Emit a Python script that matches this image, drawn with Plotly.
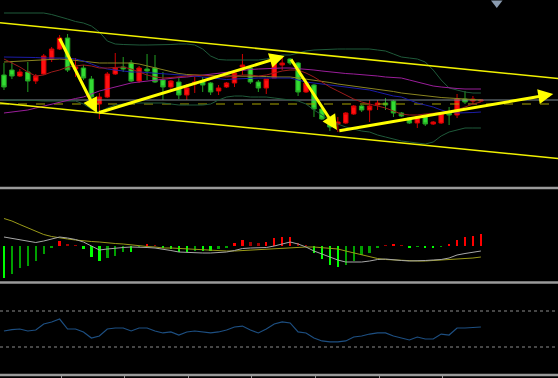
import plotly.graph_objects as go

# ---------------- data ----------------
candle_idx = list(range(61))
opens  = [125,130,124,128,119,126,141,151,162,131,132,121,96,103,126,133,137,119,131,132,
          120,113,118,105,116,119,117,109,113,117,133,132,118,112,122,135,141,137,108,115,
          91,81,76,77,86,94,90,95,97,99,87,82,77,84,76,77,87,85,101,99,99]
highs  = [137,139,131,138,126,146,153,165,166,142,135,124,107,128,147,143,140,134,146,145,
          128,120,122,116,123,123,118,115,118,128,146,133,120,121,140,143,142,138,118,116,
          92,82,83,88,95,95,100,100,102,100,88,83,84,85,79,88,93,106,109,104,101]
lows   = [110,121,123,108,116,125,138,150,128,123,120,100,81,102,125,128,118,117,120,117,
          100,109,101,100,107,108,105,105,112,113,125,116,108,106,122,130,135,104,107,83,
          80,69,68,76,85,88,78,90,90,83,83,76,72,74,75,76,75,82,96,96,98]
closes = [113,124,128,119,124,144,151,162,130,133,122,103,103,126,132,131,119,132,129,118,
          113,119,105,112,118,115,108,112,117,127,135,118,112,121,138,137,137,108,117,91,
          81,73,78,87,94,90,94,97,95,87,84,77,83,76,78,87,85,101,98,101,100]

upper_band = [187,187,187,187,187,187,185.5,183.5,181,178.5,177,174,168,159,156,155.5,155,155,155,155,
              155,155.5,156,156,155,151,144,140.5,140,140,139.5,140,140,141,143,145,145,147,149,150,
              150.5,150.5,151,151,151,151,151,150,149,146,143,142,141,138,130,120,112,110,108,107,107]
lower_band = [100,100,100,100,99.5,99,99,99,99,99,96,91,88,92,95,96,97,97,97,97,
              97,96,95,95,95,95,96,100,103,104,104,103,103,103,102,101,100,99,96,90,
              85,80,76,73,71,69,68,65,63,61,59,58,57,56,58,64,68,70,72,72,72]
ma_blue = [143,143,143,143,142.5,142,142,142,142,141,139,136,133,131,130,129,128,128,127.5,127,
           126.5,126,125,124.5,124,123,122,121,120.5,121,121.5,122,122,122,122,122.5,122,120,118,117,
           116,115,114,113,112,111,110,108,106,104,103,100,97,95,93,90,88,87,87,87.5,88]
ma_red = [141,137,133,128,124,125,128,130,133,134,135,134,132,132,132.5,133,131,128,125,123,
          122,122.5,123,124,125,124.5,124,123,123,124,125,125,124,125,127,129,130,130,127,123,
          118,113,109,105,101,98,96,94,92,89,86,85,85,86,87,87.5,88,90,93,96,98]
ma_olive = [138,138.5,139,139.5,140,140,140.5,141,140.5,139.5,138.5,137.5,137,137,137,137,137,136,134,132,
            130,128,126.5,125.5,125,124.5,124,124,124,124,124,123.5,123.5,123.5,123,123,123,122,121,120,
            119,117.5,116,115,114,113,112,111,110,108.5,107,106,105,104,103,102.5,102,101.5,101,100.5,100]
ma_purple = [87,88,89,90,92,94,96,98,100,101.5,103,106,109,111,113,115,117,118,119,120,
             121,122,122.5,123,124,125,126,127,128,129,130,130.5,131,131.5,132,132,132,131.5,131,130,
             129,128,127,126.5,126,125.5,125,124,123,122.5,122,120,118,116,114,113,112,111.5,111,111,111]

channel_x = [-0.5, 69.7]
channel_upper = [177.3, 121.5]
channel_lower = [97.0, 41.5]
support_level = 100
dashed_level = 96

# arrows: (start idx, start price, end idx, end price)
arrows = [(6.9, 163, 11.7, 87), (11.8, 87, 35.3, 144), (36.0, 142, 41.9, 70), (42.0, 69, 69.1, 106)]

macd_hist = [-31.7,-28,-22,-20,-15,-8,-2,5,2,0.7,-3,-11,-15,-12,-10,-6,-6,-0.5,1.5,0.7,
             -2.3,-3,-6,-6,-4.5,-4.5,-5,-2.5,-1.5,2.7,6,4.3,2.7,3.7,7.7,9.3,9.3,2.7,0.3,-6.7,
             -13.3,-19,-20.7,-19,-15,-9,-6.7,-2.3,1,1.7,0.7,-1.7,-1,-2.3,-2.3,-0.7,1.7,6,8.7,10.3,11.7]
macd_olive = [27.5,25,21.5,18,14.5,11.5,9.5,8,7,6,5,4.5,4,3,2.5,2,1,0.5,-0.5,-1,
              -2,-2,-2.5,-3,-3,-3.5,-4,-4.5,-5,-5,-4.5,-4.5,-4,-3.5,-2.5,-2,-1.5,-1,-1,-1,
              -1.5,-2,-3,-5,-7,-9,-11,-12.5,-13.5,-14,-14.5,-15,-15,-15,-14.5,-14,-14,-13.5,-13,-12,-11]
macd_gray = [9,7.5,6,4.5,3.5,5,7,9,8,6.5,4,0,-4,-3,-2,-1.5,-1,-1,-1.5,-2,
             -3,-4.5,-6,-6.5,-7,-7,-7,-6.5,-6,-4.5,-2.5,-2,-2,-1.5,0,2,4,2,-1,-5,
             -8,-11,-14,-16,-16,-16,-15,-13.5,-13,-14,-14.5,-15,-15,-14.5,-14,-13.5,-12,-9,-7.5,-6,-5]

rsi = [47.8,49.4,50,47.8,48.9,55.6,57.8,61.1,50,50,46.7,40,42.2,50,51.1,51.1,47.8,51.1,51.1,47.8,
       45.6,46.7,43.3,46.7,47.8,46.7,45.6,46.7,48.9,52.2,53.3,48.9,45.6,50,55.6,57.8,56.7,46.7,45.6,40,
       36.7,35.6,35.6,36.7,41.1,42.2,44.4,45.6,45.6,42.2,40,37.8,41.1,38.9,38.9,44.4,43.3,51.1,51.1,51.7,52.2]
rsi_levels = [70, 30]
time_ticks = [7.2, 15.2, 23.2, 31.2, 39.2, 47.2, 55.2]
marker_idx = 62.0

# ---------------- figure ----------------
fig = go.Figure()

def line(y, color, yaxis='y', width=1, dash=None, x=None):
    fig.add_trace(go.Scatter(x=candle_idx if x is None else x, y=y, mode='lines', yaxis=yaxis,
                             line=dict(color=color, width=width, dash=dash), hoverinfo='skip'))

# main pane lines
line([support_level]*2, '#7c8890', x=channel_x)
line([dashed_level]*2, '#a8a400', x=channel_x, dash='dash')
line(upper_band, '#1f5a3a')
line(lower_band, '#1f5a3a')
line(ma_purple, '#9a1e9a')
line(ma_olive, '#8a8420')
line(ma_blue, '#1c1ca8')
line(ma_red, '#9b1b1b')

fig.add_trace(go.Candlestick(
    x=candle_idx, open=opens, high=highs, low=lows, close=closes,
    increasing=dict(line=dict(color='#d00000', width=1), fillcolor='#ff1010'),
    decreasing=dict(line=dict(color='#22a022', width=1), fillcolor='#33dd33'),
    whiskerwidth=0, hoverinfo='skip'))

line(channel_upper, '#f0f000', x=channel_x, width=1.6)
line(channel_lower, '#f0f000', x=channel_x, width=1.6)

fig.add_trace(go.Scatter(x=[marker_idx], y=[197], mode='markers', cliponaxis=False,
                         marker=dict(symbol='triangle-down', size=10, color='#8a9bb0'), hoverinfo='skip'))

# MACD pane
bar_colors = []
prev = None
for v in macd_hist:
    grow = prev is None or abs(v) >= abs(prev)
    if v >= 0:
        bar_colors.append('#ff0000' if grow else '#a00000')
    else:
        bar_colors.append('#00ff00' if grow else '#00a000')
    prev = v
fig.add_trace(go.Bar(x=candle_idx, y=macd_hist, yaxis='y2', width=0.3,
                     marker=dict(color=bar_colors, line=dict(width=0)), hoverinfo='skip'))
line(macd_olive, '#9a9a18', yaxis='y2')
line(macd_gray, '#a8a8a8', yaxis='y2')

# RSI pane
for lv in rsi_levels:
    line([lv]*2, '#8c8c8c', yaxis='y3', x=channel_x, dash='dot')
line(rsi, '#1d4f82', yaxis='y3', width=1.2)

# arrows
for (x0, y0, x1, y1) in arrows:
    fig.add_annotation(x=x1, y=y1, ax=x0, ay=y0, xref='x', yref='y', axref='x', ayref='y',
                       text='', showarrow=True, arrowhead=2, arrowsize=1, arrowwidth=3,
                       arrowcolor='#ffff00', standoff=0, startstandoff=0)

H = 378.0
def py(p):
    return 1 - p / H

sep_color = '#9a9a9a'
for p in [188, 282.5, 375]:
    fig.add_shape(type='line', xref='paper', yref='paper', x0=0, x1=1, y0=py(p), y1=py(p),
                  line=dict(color=sep_color, width=2.5))

fig.update_layout(
    width=558, height=378, margin=dict(l=0, r=0, t=0, b=0),
    paper_bgcolor='#000000', plot_bgcolor='#000000',
    showlegend=False, hovermode=False, bargap=0, boxgap=0.2,
    xaxis=dict(range=[-0.5, 69.7], showgrid=False, zeroline=False, showline=False,
               showticklabels=False, rangeslider=dict(visible=False), anchor='y3',
               tickmode='array', tickvals=time_ticks, ticks='outside', ticklen=3,
               tickcolor='#9a9a9a', tickwidth=1),
    yaxis=dict(domain=[py(186), 1], range=[14, 200], showgrid=False, zeroline=False,
               showticklabels=False, anchor='x'),
    yaxis2=dict(domain=[py(281), py(190)], range=[-35, 56], showgrid=False, zeroline=False,
                showticklabels=False, anchor='x'),
    yaxis3=dict(domain=[py(374), py(284)], range=[0, 100], showgrid=False, zeroline=False,
                showticklabels=False, anchor='x'),
)

fig.write_html("out.html", config={'displayModeBar': False},
               post_script="document.body.style.margin='0';document.body.style.background='#000';")
